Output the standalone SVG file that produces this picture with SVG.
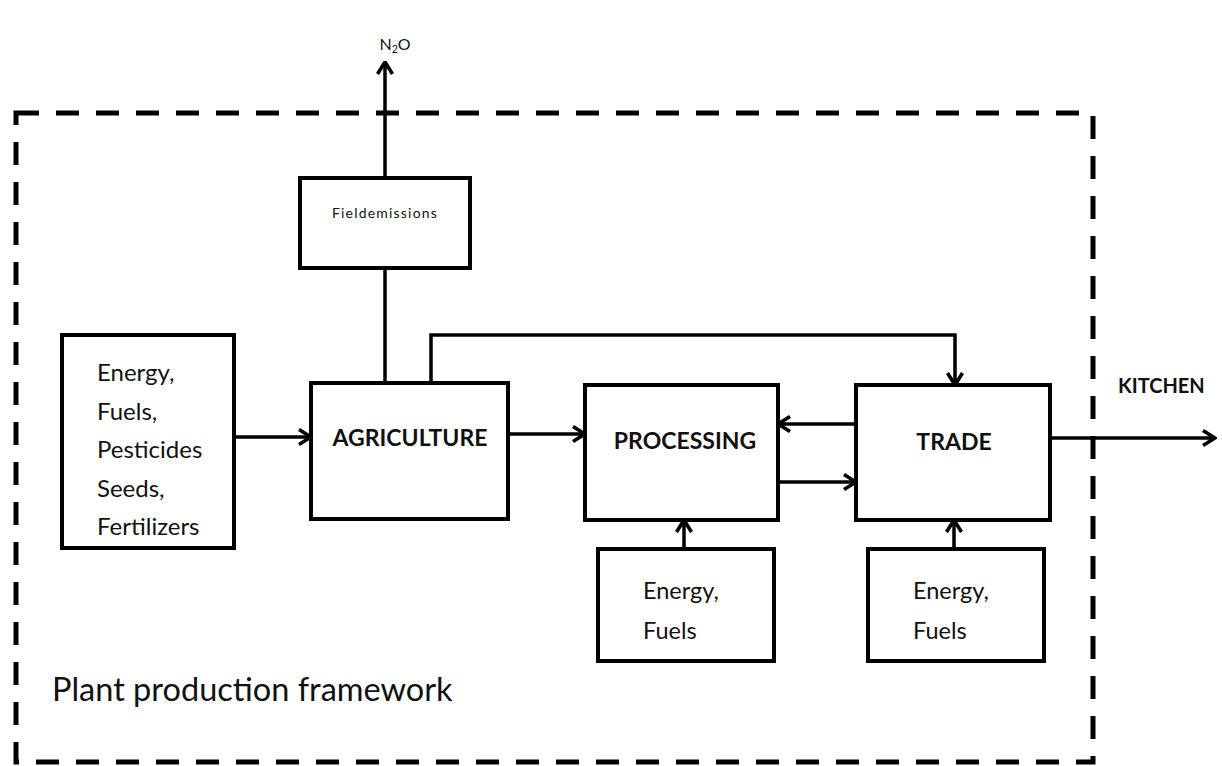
<svg xmlns="http://www.w3.org/2000/svg" width="1222" height="766" viewBox="0 0 1222 766">
<defs>
<marker id="arr" viewBox="0 0 15 18" refX="13.5" refY="9" markerWidth="15" markerHeight="18" markerUnits="userSpaceOnUse" orient="auto">
<path d="M1.5,1.5 L13.5,9 L1.5,16.5" fill="none" stroke="#000" stroke-width="3.6" stroke-linejoin="miter"/>
</marker>
<style>
.box{fill:#fff;stroke:#000;stroke-width:4}
.con{fill:none;stroke:#000;stroke-width:3.5}
.t{font-family:Lato,"Liberation Sans",sans-serif;fill:#111}
.b{font-family:Lato,"Liberation Sans",sans-serif;font-weight:bold;fill:#111}
</style>
</defs>
<rect width="1222" height="766" fill="#fff"/>
<g id="framework">
<rect x="16" y="113" width="1077" height="649" fill="none" stroke="#000" stroke-width="5" stroke-dasharray="23 17"/>
<text class="t" x="52" y="701" font-size="32.5">Plant production framework</text>
</g>
<g id="connectors">
<line class="con" x1="385" y1="178" x2="385" y2="62" marker-end="url(#arr)"/>
<line class="con" x1="385" y1="268" x2="385" y2="383"/>
<line class="con" x1="234" y1="437" x2="311" y2="437" marker-end="url(#arr)"/>
<line class="con" x1="508" y1="434" x2="585" y2="434" marker-end="url(#arr)"/>
<polyline class="con" points="431,383 431,335 955,335 955,385" marker-end="url(#arr)"/>
<line class="con" x1="856" y1="424" x2="778" y2="424" marker-end="url(#arr)"/>
<line class="con" x1="778" y1="482" x2="856" y2="482" marker-end="url(#arr)"/>
<line class="con" x1="1050" y1="438" x2="1215" y2="438" marker-end="url(#arr)"/>
<line class="con" x1="684" y1="549" x2="684" y2="520" marker-end="url(#arr)"/>
<line class="con" x1="954" y1="549" x2="954" y2="520" marker-end="url(#arr)"/>
</g>
<g id="n2o">
<text class="t" x="395" y="50" font-size="16" text-anchor="middle">N<tspan font-size="10.5" dy="3">2</tspan><tspan dy="-3">O</tspan></text>
</g>
<g id="field-emissions">
<rect class="box" x="300" y="178" width="170" height="90"/>
<text class="t" x="385" y="218" font-size="14" letter-spacing="1.2" text-anchor="middle">Fieldemissions</text>
</g>
<g id="inputs">
<rect class="box" x="62" y="335" width="172" height="213"/>
<text class="t" x="97" y="381" font-size="24">Energy,</text>
<text class="t" x="97" y="420" font-size="24">Fuels,</text>
<text class="t" x="97" y="458" font-size="24">Pesticides</text>
<text class="t" x="97" y="497" font-size="24">Seeds,</text>
<text class="t" x="97" y="535" font-size="24">Fertilizers</text>
</g>
<g id="agriculture">
<rect class="box" x="311" y="383" width="197" height="136"/>
<text class="b" x="410" y="446" font-size="23" text-anchor="middle">AGRICULTURE</text>
</g>
<g id="processing">
<rect class="box" x="585" y="385" width="193" height="135"/>
<text class="b" x="685" y="449" font-size="23" text-anchor="middle">PROCESSING</text>
</g>
<g id="trade">
<rect class="box" x="856" y="385" width="194" height="135"/>
<text class="b" x="954" y="450" font-size="23" text-anchor="middle">TRADE</text>
</g>
<g id="kitchen">
<text class="b" x="1118" y="393" font-size="20">KITCHEN</text>
</g>
<g id="processing-energy">
<rect class="box" x="598" y="549" width="176" height="112"/>
<text class="t" x="643" y="599" font-size="23.5">Energy,</text>
<text class="t" x="643" y="639" font-size="23.5">Fuels</text>
</g>
<g id="trade-energy">
<rect class="box" x="868" y="549" width="176" height="112"/>
<text class="t" x="913" y="599" font-size="23.5">Energy,</text>
<text class="t" x="913" y="639" font-size="23.5">Fuels</text>
</g>
</svg>
